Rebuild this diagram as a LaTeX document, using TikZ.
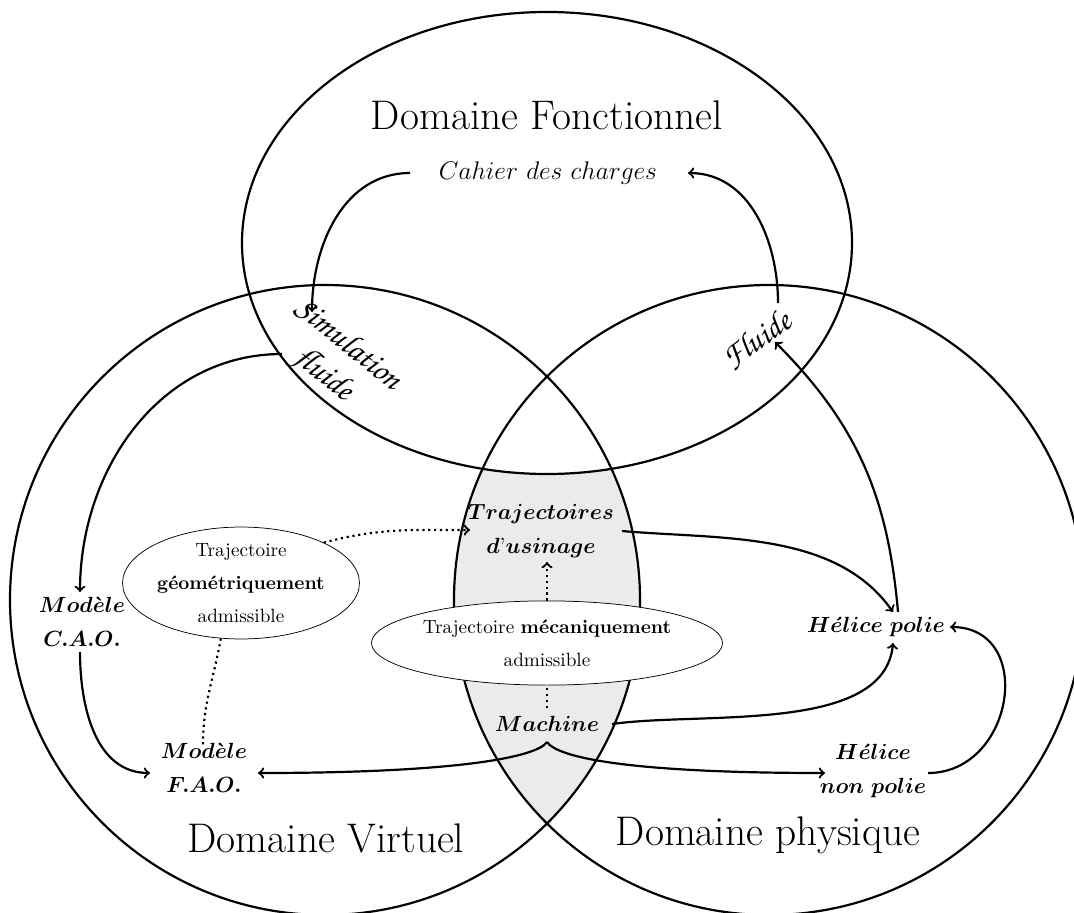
\documentclass[tikz,border=0pt]{standalone}
\usepackage{fix-cm}
\usepackage{amsmath}
\usetikzlibrary{shapes.geometric}
\definecolor{lentille}{RGB}{235,235,235}
\newcommand{\chancery}{\usefont{OT1}{pzc}{mb}{it}}

\begin{document}
\begin{tikzpicture}[x=0.0192cm,y=0.0192cm,
  domaine/.style={font=\fontsize{22.6}{27}\selectfont},
  objet/.style={font=\fontsize{12}{18.5}\selectfont\boldmath,align=center,inner sep=0pt},
  fleche/.style={->,line width=1.2pt},
  pointille/.style={line width=1.2pt,dotted},
  bulle/.style={ellipse,draw,thin,fill=white,align=center,inner sep=0pt,font=\fontsize{10.5}{18}\selectfont}]
\useasboundingbox (0,0) rectangle (1074,912);
\clip (0,0) rectangle (1074,912);

% zone commune virtuel / physique
\begin{scope}
\clip (325,312) circle (315);
\clip (769,312) circle (315);
\fill[lentille] (0,0) rectangle (1074,912);
\fill[white] (547,669) ellipse (305 and 231);
\end{scope}

\draw [line width=1.2pt] (547,669) ellipse (305 and 231);
\draw [line width=1.2pt] (325,312) circle (315);
\draw [line width=1.2pt] (769,312) circle (315);

\node[domaine] (domF) at (547,797) {Domaine Fonctionnel};
\node[domaine] (domV) at (326,74) {Domaine Virtuel};
\node[domaine] (domP) at (768,77) {Domaine physique};

\node[font=\fontsize{13.9}{16}\selectfont,inner sep=0pt] (cahier) at (548,739) {$Cahier\ des\ charges$};
\node[font=\fontsize{18}{21}\chancery,align=center,rotate=-39] (simu) at (335,551) {Simulation\\fluide};
\node[font=\fontsize{18}{21}\chancery,rotate=35] (fluide) at (757,572) {Fluide};

\node[objet] (cao) at (82,290) {$Mod\grave{e}le$\\$C.A.O.$};
\node[objet] (fao) at (204,144) {$Mod\grave{e}le$\\$F.A.O.$};
\node[objet] (traj) at (541,381) {$Trajectoires$\\$d\mbox{'}usinage$};
\node[objet] (machine) at (547,188) {$Machine$};
\node[objet] (hpolie) at (876,285) {$H\acute{e}lice\ polie$};
\node[objet] (hnonpolie) at (873,141) {$H\acute{e}lice$\\$non\ polie$};

\node[bulle,minimum width=115pt,minimum height=49pt] (geom) at (241,329)
  {Trajectoire\\\textbf{géométriquement}\\admissible};
\node[bulle,minimum width=156pt,minimum height=46pt] (meca) at (547,269)
  {Trajectoire \textbf{mécaniquement}\\admissible};

% fleches pleines
\draw[fleche] ([shift={(-138,0)}]cahier.center) to[out=180,in=90] ([shift={(-23,49)}]simu.center);
\draw[fleche] ([shift={(21,37)}]fluide.center) to[out=90,in=0] ([shift={(140,0)}]cahier.center);
\draw[fleche] ([shift={(-53,7)}]simu.center) to[out=180,in=90] ([shift={(-2,30)}]cao.center);
\draw[fleche] ([shift={(-2,-30)}]cao.center) to[out=-90,in=180] ([shift={(-54,-5)}]fao.center);
\draw[fleche] ([shift={(0,-18)}]machine.center) .. controls +(-10,-15) and +(200,0) .. ([shift={(54,-5)}]fao.center);
\draw[fleche] ([shift={(0,-18)}]machine.center) .. controls +(10,-15) and +(-200,0) .. ([shift={(-48,-2)}]hnonpolie.center);
\draw[fleche] ([shift={(55,-2)}]hnonpolie.center) to[out=0,in=0,looseness=1.5] ([shift={(74,0)}]hpolie.center);
\draw[fleche] ([shift={(65,0)}]machine.center) to[out=8,in=-95,looseness=0.8] ([shift={(17,-16)}]hpolie.center);
\draw[fleche] ([shift={(81,0)}]traj.center) to[out=-5,in=125,looseness=0.9] ([shift={(17,15)}]hpolie.center);
\draw[fleche] ([shift={(22,15)}]hpolie.center) to[out=95,in=-45] ([shift={(18,-2)}]fluide.center);

% fleches en pointille
\draw[pointille,->] (geom.26) to[out=15,in=180] ([shift={(-71,1)}]traj.center);
\draw[pointille] (geom.250) to[out=-100,in=90] ([shift={(-1,23)}]fao.center);
\draw[pointille] ([shift={(0,16)}]machine.center) -- (meca.south);
\draw[pointille,->] (meca.north) -- ([shift={(6,-31)}]traj.center);

\end{tikzpicture}
\end{document}
